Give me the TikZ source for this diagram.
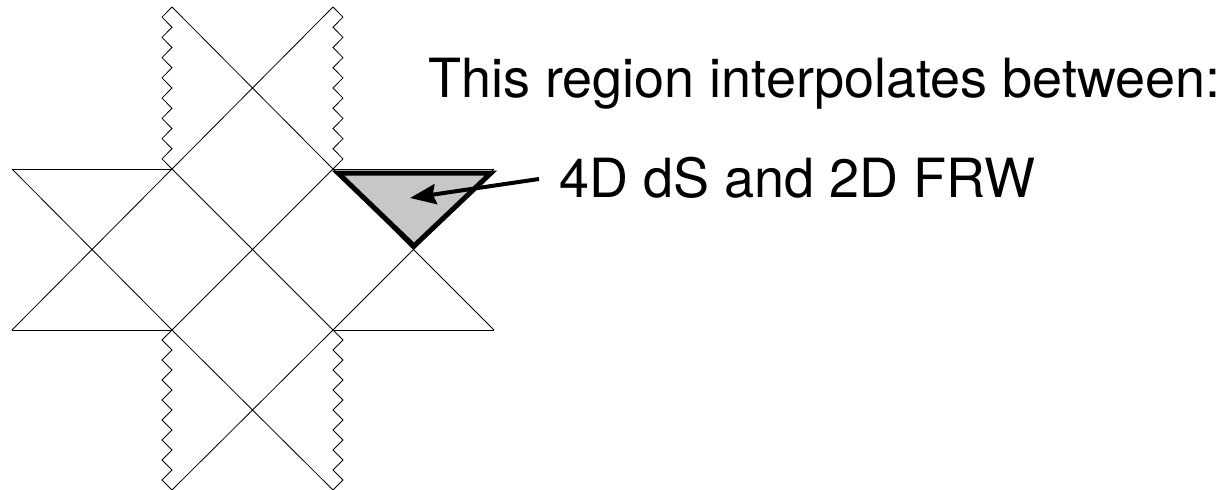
\documentclass[tikz,border=0pt]{standalone}
\usepackage{fontspec}
\setmainfont{TeX Gyre Heros}
\usetikzlibrary{arrows.meta}
\tikzset{
  thin line/.style={line width=0.8pt, line join=miter},
  region/.style={line width=5pt, line join=miter, fill=black!22},
  pointer/.style={line width=4pt, -{Stealth[length=26pt,width=20pt,inset=3pt]}},
  label/.style={anchor=base west, inner sep=0pt, font=\fontsize{54}{60}\selectfont}
}
\begin{document}
\begin{tikzpicture}[x=1pt,y=-1pt]
\useasboundingbox (0,0) rectangle (1227,490);
% corners
\coordinate (L1) at (12,169);
\coordinate (L2) at (12,330);
\coordinate (A) at (172,169);
\coordinate (B) at (333,169);
\coordinate (C) at (172,330);
\coordinate (D) at (333,330);
\coordinate (TA) at (172,7);
\coordinate (TB) at (333,7);
\coordinate (BA) at (172,490);
\coordinate (BB) at (333,490);
\coordinate (R1) at (494,169);
\coordinate (R2) at (494,330);
% shaded region
\coordinate (S1) at (338,173);
\coordinate (S2) at (491,173);
\coordinate (S3) at (414,246);
\filldraw[region] (S1) -- (S2) -- (S3) -- cycle;
% diagonals
\draw[thin line] (TA) -- (B) -- (R2);
\draw[thin line] (TB) -- (A) -- (L2);
\draw[thin line] (L1) -- (C) -- (BB);
\draw[thin line] (R1) -- (D) -- (BA);
\draw[thin line] (A) -- (D);
\draw[thin line] (B) -- (C);
% horizontals
\draw[thin line] (L1) -- (A);
\draw[thin line] (L2) -- (C);
\draw[thin line] (B) -- (R1);
\draw[thin line] (D) -- (R2);
% zigzags (singularities)
\draw[thin line] (TA) \foreach \i in {0,...,7} { -- ++(-10,10.125) -- ++(10,10.125) };
\draw[thin line] (TB) \foreach \i in {0,...,7} { -- ++(10,10.125) -- ++(-10,10.125) };
\draw[thin line] (C) \foreach \i in {0,...,7} { -- ++(-10,10) -- ++(10,10) };
\draw[thin line] (D) \foreach \i in {0,...,7} { -- ++(10,10) -- ++(-10,10) };
% texts
\node[label] (t1) at (428,97) {This region interpolates between:};
\node[label] (t2) at (559,197) {4D dS and 2D FRW};
% arrow
\coordinate (tail) at (539,179);
\coordinate (head) at (410,198);
\draw[pointer] (tail) -- (head);
\end{tikzpicture}
\end{document}
